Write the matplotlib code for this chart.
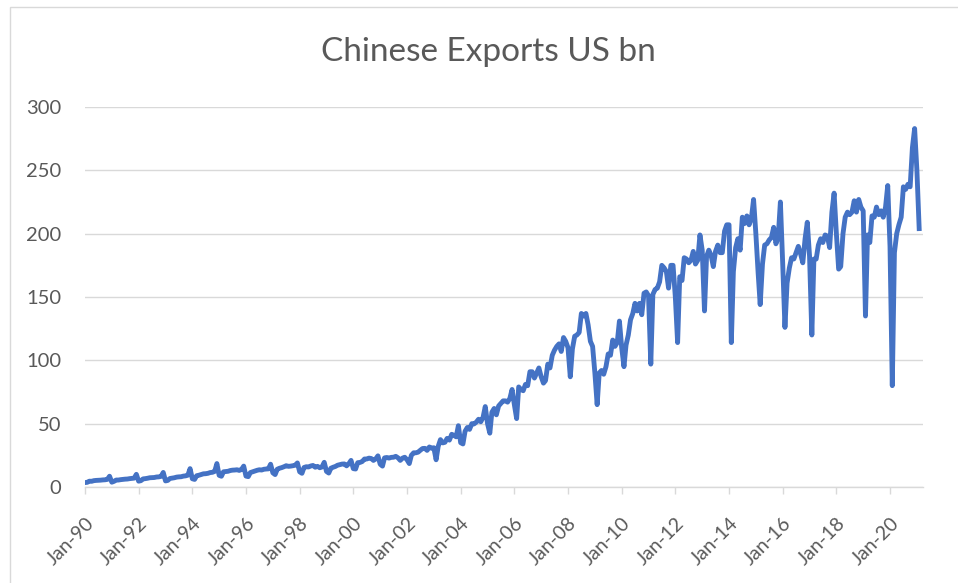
import pandas as pd
import matplotlib.pyplot as plt
import matplotlib.dates as mdates
from matplotlib.patches import Rectangle

# Exportações mensais (US bn), jan/1990 a fev/2021
y1990 = [3.5, 3.7, 4.6, 4.5, 5.0, 5.2, 5.3, 5.4, 5.6, 5.7, 6.0, 8.5]
y1991 = [3.8, 4.5, 5.5, 5.5, 5.8, 6.0, 6.2, 6.3, 6.6, 6.8, 7.0, 10.0]
y1992 = [4.6, 5.0, 6.4, 6.6, 6.9, 7.3, 7.4, 7.5, 7.9, 8.0, 8.4, 11.5]
y1993 = [4.8, 5.2, 6.7, 7.0, 7.3, 7.8, 8.0, 8.1, 8.6, 8.8, 9.3, 14.5]
y1994 = [6.5, 6.0, 8.9, 9.3, 9.8, 10.4, 10.5, 10.8, 11.4, 11.6, 12.3, 18.5]
y1995 = [9.2, 8.5, 12.0, 12.2, 12.4, 13.0, 13.3, 13.4, 13.6, 13.1, 13.8, 16.5]
y1996 = [8.6, 8.2, 11.4, 12.0, 12.6, 13.2, 13.6, 13.4, 14.0, 14.2, 14.3, 18.0]
y1997 = [11.2, 9.8, 14.0, 14.8, 15.3, 16.0, 16.8, 16.3, 16.5, 16.8, 17.2, 19.0]
y1998 = [12.0, 10.8, 15.4, 16.0, 15.8, 16.6, 17.0, 15.6, 16.3, 15.2, 15.8, 19.5]
y1999 = [12.3, 11.0, 14.8, 15.6, 16.2, 17.2, 17.6, 18.1, 18.2, 16.7, 18.4, 21.0]
y2000 = [14.5, 14.2, 19.2, 19.4, 20.1, 22.1, 22.1, 22.8, 22.5, 21.0, 22.2, 24.6]
y2001 = [18.0, 16.5, 23.0, 23.3, 22.8, 23.4, 23.5, 24.2, 23.0, 21.0, 22.8, 23.5]
y2002 = [21.5, 18.5, 25.0, 27.0, 27.0, 27.5, 29.0, 30.4, 30.5, 28.9, 31.6, 30.6]
y2003 = [31.0, 21.5, 32.0, 37.4, 34.8, 35.3, 38.4, 37.0, 41.6, 40.8, 39.6, 48.4]
y2004 = [35.0, 34.0, 44.0, 47.0, 45.5, 50.0, 49.8, 51.2, 53.5, 51.5, 55.0, 63.5]
y2005 = [50.0, 42.5, 59.0, 62.0, 57.0, 64.0, 66.0, 68.0, 68.0, 67.0, 70.0, 77.0]
y2006 = [65.0, 54.0, 79.0, 77.0, 76.0, 81.0, 80.0, 91.0, 91.0, 86.0, 90.0, 94.0]
y2007 = [87.0, 82.0, 84.0, 97.0, 94.0, 104.0, 108.0, 111.0, 113.0, 107.0, 118.0, 115.0]
y2008 = [110.0, 87.0, 109.0, 119.0, 120.0, 122.0, 137.0, 135.0, 137.0, 128.0, 115.0, 111.0]
y2009 = [90.0, 65.0, 90.0, 92.0, 89.0, 95.0, 105.0, 104.0, 116.0, 111.0, 114.0, 131.0]
y2010 = [110.0, 95.0, 112.0, 120.0, 132.0, 137.0, 145.0, 139.0, 145.0, 136.0, 153.0, 154.0]
y2011 = [151.0, 97.0, 152.0, 156.0, 157.0, 162.0, 175.0, 173.0, 170.0, 157.0, 175.0, 175.0]
y2012 = [150.0, 114.0, 166.0, 163.0, 181.0, 180.0, 177.0, 179.0, 186.0, 176.0, 179.0, 199.0]
y2013 = [187.0, 139.0, 182.0, 187.0, 183.0, 174.0, 186.0, 191.0, 185.0, 185.0, 202.0, 207.0]
y2014 = [207.0, 114.0, 170.0, 189.0, 196.0, 187.0, 213.0, 208.0, 214.0, 207.0, 212.0, 227.0]
y2015 = [200.0, 169.0, 144.0, 176.0, 191.0, 192.0, 195.0, 197.0, 205.0, 192.0, 197.0, 225.0]
y2016 = [177.0, 126.0, 161.0, 173.0, 181.0, 180.0, 185.0, 190.0, 184.0, 177.0, 196.0, 209.0]
y2017 = [182.0, 120.0, 180.0, 180.0, 191.0, 196.0, 193.0, 199.0, 198.0, 189.0, 217.0, 232.0]
y2018 = [200.0, 172.0, 174.0, 200.0, 213.0, 217.0, 215.0, 217.0, 226.0, 217.0, 227.0, 221.0]
y2019 = [218.0, 135.0, 199.0, 193.0, 214.0, 213.0, 221.0, 215.0, 218.0, 213.0, 221.0, 238.0]
y2020 = [190.0, 80.0, 185.0, 200.0, 207.0, 213.0, 237.0, 235.0, 239.0, 237.0, 268.0, 283.0]
y2021 = [250.0, 204.0]

anos = [y1990, y1991, y1992, y1993, y1994, y1995, y1996, y1997, y1998, y1999,
        y2000, y2001, y2002, y2003, y2004, y2005, y2006, y2007, y2008, y2009,
        y2010, y2011, y2012, y2013, y2014, y2015, y2016, y2017, y2018, y2019,
        y2020, y2021]
valores = [v for ano in anos for v in ano]
datas = pd.date_range('1990-01-01', periods=len(valores), freq='MS')

titulo = 'Chinese Exports US bn'
yticks = [0, 50, 100, 150, 200, 250, 300]

cinza_texto = '#595959'
cinza_grade = '#D9D9D9'
azul = '#4472C4'

plt.rcParams['font.family'] = ['Lato', 'DejaVu Sans']

fig = plt.figure(figsize=(9.58, 5.83), dpi=100)
ax = fig.add_axes([85/958, 1 - 487/583, (923 - 85)/958, (487 - 107)/583])

ax.plot(datas, valores, color=azul, linewidth=3.5, solid_joinstyle='round')

ax.set_ylim(0, 300)
ax.set_yticks(yticks)
ax.set_xlim(pd.Timestamp('1990-01-01'), pd.Timestamp('2021-03-25'))
ax.xaxis.set_major_locator(mdates.YearLocator(2))
ax.xaxis.set_major_formatter(mdates.DateFormatter('%b-%y'))

ax.grid(axis='y', color=cinza_grade, linewidth=1)
ax.set_axisbelow(True)
for lado in ['top', 'right', 'left']:
    ax.spines[lado].set_visible(False)
ax.spines['bottom'].set_color(cinza_grade)
ax.spines['bottom'].set_linewidth(1)

ax.tick_params(axis='y', length=0, pad=17, labelsize=14.5, labelcolor=cinza_texto)
ax.tick_params(axis='x', length=5, width=1, color=cinza_grade, pad=15,
               labelsize=14, labelcolor=cinza_texto)
for rotulo in ax.get_xticklabels():
    rotulo.set_rotation(45)
    rotulo.set_ha('right')
    rotulo.set_rotation_mode('anchor')

fig.text(0.51, 1 - 52/583, titulo, ha='center', va='center',
         fontsize=24, color=cinza_texto)

# moldura do gráfico
fig.patches.append(Rectangle((10/958, -0.01), 1.0, 1 - 7/583 + 0.01,
                             transform=fig.transFigure, fill=False,
                             edgecolor=cinza_grade, linewidth=1))

plt.savefig('out.png', dpi=100)
plt.close()
